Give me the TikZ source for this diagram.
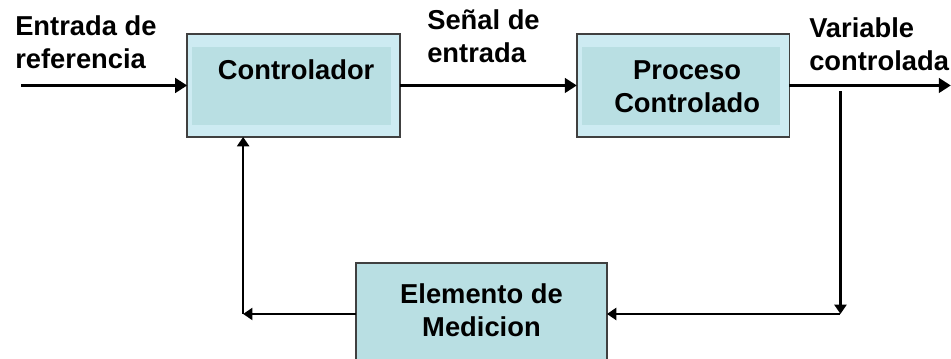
\documentclass[tikz,border=0pt]{standalone}
\usepackage{fontspec}
\setmainfont{Liberation Sans}
\usetikzlibrary{arrows.meta,positioning}
\definecolor{cielo}{HTML}{CDEBF2}
\definecolor{agua}{HTML}{B9DFE3}
\tikzset{
	%Define standard arrow tip
	>={Triangle[length=9pt,width=11pt]},
	%Define style for boxes
	bloque/.style={
		rectangle,
		draw=black!75, line width=1.3pt,
		fill=cielo,
		outer sep=0pt,
		minimum width=159.5pt,
		minimum height=77.25pt},
	% Define style for texts
	texto/.style={
		font={\fontsize{20.5}{25}\selectfont\bfseries},
		inner sep=0pt,
		align=center},
	% Define arrow style
	flecha/.style={
		->,
		line width=2pt},
	% smaller tips for the feedback path
	retro/.style={
		-{Triangle[length=7pt,width=9pt]},
		line width=2pt}
}
\begin{document}
\begin{tikzpicture}
	\useasboundingbox (0,0) rectangle (713.25pt,-268.5pt);
	
	\node[bloque] (control) at (220.1pt,-64.1pt) {};
	\node[bloque, right=132.75pt of control] (proceso) {};
	\node[bloque, fill=agua, minimum width=188.25pt, minimum height=76.5pt,
		below=94.5pt of control, xshift=141pt] (medicion) {};
	
	% lighter inner panel of the upper boxes
	\foreach \b in {control,proceso}
		\fill[agua] ([shift={(3.75pt,-9.75pt)}]\b.north west) rectangle ([shift={(-6.75pt,9pt)}]\b.south east);
	
	\node[texto] (tcontrol) at ([xshift=2pt,yshift=11.6pt]control.center) {Controlador};
	\node[texto] (tproceso) at ([xshift=3pt,yshift=-1pt]proceso.center) {Proceso\\Controlado};
	\node[texto] (tmedicion) at ([yshift=3pt]medicion.center) {Elemento de\\Medicion};
	
	\node[texto, align=left, anchor=north west] (referencia) at (11.25pt,-11.25pt) {Entrada de\\referencia};
	\node[texto, align=left, anchor=north west] (senal) at (320.25pt,-6.75pt) {Señal de\\entrada};
	\node[texto, align=left, anchor=north west] (variable) at (606.75pt,-13.1pt) {Variable\\controlada};
	
	\coordinate[left=124.25pt of control.west] (entrada);
	\coordinate[right=121pt of proceso.east] (salida);
	\coordinate[right=38.25pt of proceso.east] (rama);
	\coordinate (izq) at ([xshift=42pt]control.south west |- medicion.west);
	
	\draw[flecha] (entrada) -- (control.west);
	\draw[flecha] (control.east) -- (proceso.west);
	\draw[flecha] (proceso.east) -- (salida);
	
	\draw[retro] ([yshift=-4.5pt]rama) -- (rama |- medicion.east);
	\draw[retro] (rama |- medicion.east) -- (medicion.east);
	\draw[retro] (medicion.west) -- (izq);
	\draw[retro] (izq) -- (izq |- control.south);
	
\end{tikzpicture}
\end{document}
